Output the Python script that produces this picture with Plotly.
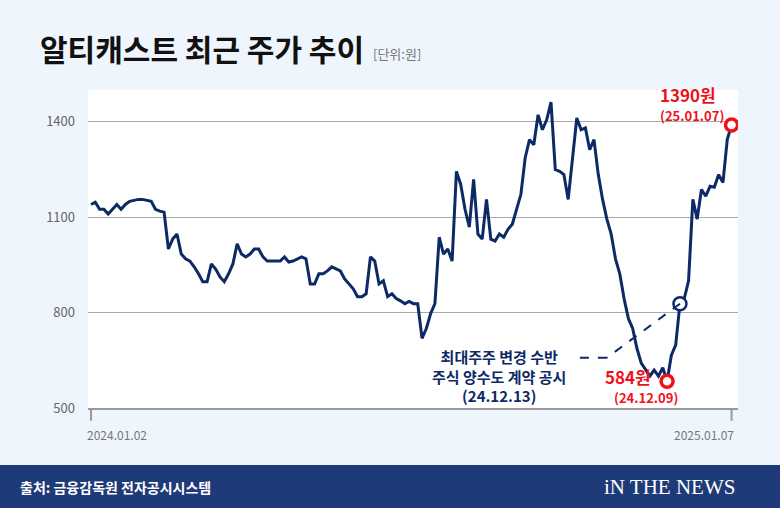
import plotly.graph_objects as go

prices = [1140,1147,1125,1125,1110,1125,1140,1125,1140,1150,1153,1156,1156,1153,1150,1125,1119,1116,1000,1031,1047,984,969,962,944,922,897,897,953,937,912,897,922,953,1016,984,975,984,1000,1000,975,962,962,962,962,975,959,962,969,975,969,890,890,922,922,931,944,937,931,906,890,875,850,850,859,975,962,890,900,850,859,844,837,828,835,828,828,719,750,797,828,1037,984,1000,962,1244,1203,1125,1069,1219,1047,1031,1156,1031,1025,1047,1037,1062,1078,1125,1172,1287,1344,1328,1422,1375,1406,1462,1250,1244,1234,1156,1281,1412,1375,1381,1312,1344,1234,1156,1094,1047,969,922,844,781,750,687,641,619,600,619,600,627,584,666,698,828,844,900,1156,1094,1187,1166,1197,1194,1234,1209,1344,1390]
dates_first = "2024.01.02"
dates_last = "2025.01.07"
y_ticks = [500, 800, 1100, 1400]
ann_idx = prices.index(828, 130)
min_idx = prices.index(584)
n = len(prices)
x = list(range(n))

NAVY = "#0d2a66"
RED = "#f0101a"
fig = go.Figure()
fig.add_trace(go.Scatter(x=x, y=prices, mode="lines", line=dict(color=NAVY, width=3), hoverinfo="skip"))
fig.add_trace(go.Scatter(x=[ann_idx], y=[prices[ann_idx]], mode="markers",
    marker=dict(size=13, color="white", line=dict(color=NAVY, width=2.5))))
fig.add_trace(go.Scatter(x=[min_idx, n-1], y=[prices[min_idx], prices[-1]], mode="markers",
    marker=dict(size=12, color="white", line=dict(color=RED, width=3.5))))

font = "Noto Sans CJK KR"
fig.update_layout(
    width=780, height=508, showlegend=False,
    paper_bgcolor="#eef5fd", plot_bgcolor="white",
    margin=dict(l=88, r=42, t=90, b=100),
    font=dict(family=font),
    xaxis=dict(range=[-0.7, n+0.5], showgrid=False, zeroline=False, showticklabels=False,
               ticks="", showline=True, linecolor="#999", linewidth=1.5),
    yaxis=dict(range=[500, 1500], tickvals=y_ticks, ticktext=[str(v) for v in y_ticks],
               gridcolor="#aaa", gridwidth=1, zeroline=False, ticks="",
               tickfont=dict(size=13, color="#666"), ticklabelstandoff=12),
)
fig.add_shape(type="line", xref="x", yref="paper", x0=n-1, x1=n-1, y0=0, y1=-0.04, line=dict(color="#999", width=2))
fig.add_shape(type="line", xref="x", yref="paper", x0=0, x1=0, y0=0, y1=-0.04, line=dict(color="#999", width=2))
fig.add_annotation(text=dates_first, xref="x", yref="paper", x=0, y=-0.05, xanchor="left", yanchor="top",
                   showarrow=False, xshift=-6, font=dict(size=12, color="#777"))
fig.add_annotation(text=dates_last, xref="x", yref="paper", x=n-1, y=-0.05, xanchor="right", yanchor="top",
                   showarrow=False, xshift=4, font=dict(size=12, color="#777"))
fig.add_shape(type="rect", xref="paper", yref="paper", x0=-0.2, x1=1.1, y0=-0.179, y1=-0.36,
              fillcolor="#1f3a78", line=dict(width=0), layer="above")
fig.add_shape(type="line", xref="x", yref="y", x0=ann_idx, y0=prices[ann_idx], x1=ann_idx-17, y1=658,
              line=dict(color=NAVY, width=2, dash="dash"))
fig.add_shape(type="line", xref="x", yref="y", x0=ann_idx-17, y0=658, x1=ann_idx-25, y1=658,
              line=dict(color=NAVY, width=2, dash="dash"))

anns = [
    dict(text="<b>알티캐스트 최근 주가 추이</b>", x=-0.077, y=1.132, size=30, color="#111"),
    dict(text="[단위:원]", x=0.435, y=1.115, size=13, color="#777"),
    dict(text="<b>출처: 금융감독원 전자공시시스템</b>", x=-0.108, y=-0.248, size=14, color="white"),
    dict(text="iN THE NEWS", x=0.79, y=-0.248, size=21, color="white", fam="Liberation Serif"),
]
for a in anns:
    fig.add_annotation(text=a["text"], xref="paper", yref="paper", x=a["x"], y=a["y"],
                       xanchor="left", yanchor="middle", showarrow=False,
                       font=dict(size=a["size"], color=a["color"], family=a.get("fam", font)))
fig.add_annotation(text="<b>최대주주 변경 수반<br>주식 양수도 계약 공시<br>(24.12.13)</b>", xref="x", yref="y",
                   x=ann_idx-26, y=600, xanchor="right", yanchor="middle", showarrow=False, align="center",
                   font=dict(size=15, color=NAVY))
fig.add_annotation(text="<b>584원</b>", xref="x", yref="y", x=min_idx, y=600, xanchor="right", showarrow=False,
                   xshift=-14, font=dict(size=17, color=RED))
fig.add_annotation(text="<b>(24.12.09)</b>", xref="x", yref="y", x=min_idx+3, y=532, xanchor="right", showarrow=False,
                   font=dict(size=13, color=RED))
fig.add_annotation(text="<b>1390원</b>", xref="x", yref="paper", x=n-1, y=1.03, xanchor="right", showarrow=False,
                   xshift=-14, font=dict(size=17, color=RED))
fig.add_annotation(text="<b>(25.01.07)</b>", xref="x", yref="paper", x=n-1, y=0.955, xanchor="right", showarrow=False,
                   xshift=-6, font=dict(size=13, color=RED))
fig.write_html("out.html", post_script="document.body.style.margin='0';", config={"displayModeBar": False})
